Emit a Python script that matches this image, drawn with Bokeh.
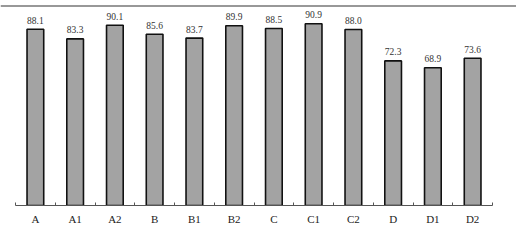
from bokeh.plotting import figure
from bokeh.models import ColumnDataSource, FixedTicker, Range1d, Span
from bokeh.core.properties import value
from bokeh.embed import file_html
from bokeh.resources import INLINE

categories = ["A", "A1", "A2", "B", "B1", "B2", "C", "C1", "C2", "D", "D1", "D2"]
values = [88.1, 83.3, 90.1, 85.6, 83.7, 89.9, 88.5, 90.9, 88.0, 72.3, 68.9, 73.6]
value_labels = ["88.1", "83.3", "90.1", "85.6", "83.7", "89.9", "88.5", "90.9", "88.0", "72.3", "68.9", "73.6"]

n = len(categories)
centers = [i + 0.5 for i in range(n)]
bounds = [float(i) for i in range(n + 1)]

src = ColumnDataSource(dict(x=centers, top=values, lab=value_labels, cat=categories))

cw = 477 / n  # pixel width of one category slot
ytop = 100
p = figure(output_backend="svg", toolbar_location=None,
           frame_width=516, frame_height=200,
           x_range=Range1d(-15 / cw, n + 24 / cw), y_range=Range1d(0, ytop),
           min_border_left=0, min_border_right=0, min_border_top=5, min_border_bottom=0)

p.vbar(x="x", top="top", width=0.42, bottom=0, source=src,
       fill_color="#a3a3a3", line_color="#111111", line_width=1.6)

p.text(x="x", y="top", text="lab", source=src,
       text_font=value("Liberation Serif"), text_font_size="9.5px",
       text_align="center", text_baseline="alphabetic", y_offset=-9,
       text_color="#333333")

p.add_layout(Span(location=ytop, dimension="width", line_color="#333333", line_width=2))

p.yaxis.visible = False
p.xgrid.visible = False
p.ygrid.visible = False
p.outline_line_color = None

ax = p.xaxis[0]
ax.bounds = (0, n)
ax.ticker = FixedTicker(ticks=centers, minor_ticks=bounds)
ax.major_label_overrides = {c: lab for c, lab in zip(centers, categories)}
ax.major_tick_in = 0
ax.major_tick_out = 0
ax.minor_tick_in = 3
ax.minor_tick_out = 0
ax.minor_tick_line_color = "#555555"
ax.axis_line_color = "#555555"
ax.axis_line_width = 1
ax.major_label_standoff = 7
ax.major_label_text_font = "Liberation Serif"
ax.major_label_text_font_size = "11px"
ax.major_label_text_color = "#222222"

open("out.html", "w").write(file_html(p, INLINE))
